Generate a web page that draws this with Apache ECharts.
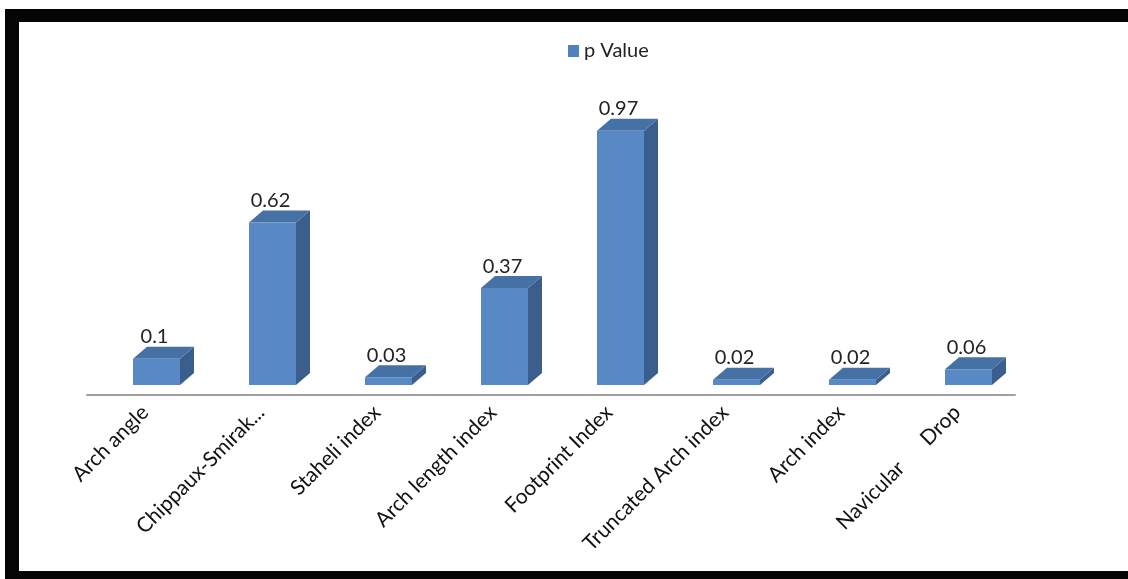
<!DOCTYPE html>
<html>
<head>
<meta charset="utf-8">
<script src="https://cdn.jsdelivr.net/npm/echarts@6/dist/echarts.min.js"></script>
<style>
  html, body { margin: 0; padding: 0; background: #fff; }
  #chart { width: 1128px; height: 579px; }
</style>
</head>
<body>
<div id="chart"></div>
<script>
var categories = ['Arch angle', 'Chippaux-Smirak...', 'Staheli index', 'Arch length index',
  'Footprint Index', 'Truncated Arch index', 'Arch index', 'Navicular      Drop'];
var pValues = [0.1, 0.62, 0.03, 0.37, 0.97, 0.02, 0.02, 0.06];

var chartDom = document.getElementById('chart');
var myChart = echarts.init(chartDom);

// fake 3d bar: front face, top face, side face
function renderBar(params, api) {
  var idx = api.value(0);
  var v = api.value(1);
  var base = api.coord([idx, 0]);
  var top = api.coord([idx, v]);
  var left = base[0] - 12;
  var w = 47;
  var dx = 14, dy = -12;
  var right = left + w;
  var yT = top[1], yB = base[1];
  return {
    type: 'group',
    children: [
      {
        type: 'polygon',
        shape: { points: [[right, yB], [right + dx, yB + dy], [right + dx, yT + dy], [right, yT]] },
        style: { fill: '#3b5e8c' }
      },
      {
        type: 'polygon',
        shape: { points: [[left, yT], [left + dx, yT + dy], [right + dx, yT + dy], [right, yT]] },
        style: { fill: '#4671a5' }
      },
      {
        type: 'rect',
        shape: { x: left, y: yT, width: w, height: yB - yT },
        style: { fill: '#5889c5' }
      },
      {
        type: 'text',
        style: {
          text: String(v), x: left + w / 2 - 2, y: yT + dy - 10,
          align: 'center', verticalAlign: 'middle',
          font: '20px Lato, "Open Sans", sans-serif', fill: '#222'
        }
      }
    ]
  };
}

var option = {
  animation: false,
  backgroundColor: '#fff',
  graphic: [
    { type: 'rect', shape: { x: 5, y: 9, width: 1123, height: 13 }, style: { fill: '#050505' } },
    { type: 'rect', shape: { x: 5, y: 9, width: 14, height: 570 }, style: { fill: '#050505' } },
    { type: 'rect', shape: { x: 5, y: 571, width: 1123, height: 8 }, style: { fill: '#050505' } }
  ],
  legend: {
    top: 36,
    left: 563,
    itemWidth: 11,
    itemHeight: 12,
    itemGap: 7,
    textStyle: { fontFamily: 'Lato, "Open Sans", sans-serif', fontSize: 20, color: '#222' },
    data: [{ name: 'p Value', icon: 'rect', itemStyle: { color: '#4f81bd' } }]
  },
  grid: { left: 87, right: 113, top: 123, bottom: 194 },
  xAxis: {
    type: 'category',
    data: categories,
    offset: 10,
    axisLine: { onZero: false, lineStyle: { color: '#a0a0a0', width: 2 } },
    axisTick: { show: false },
    axisLabel: {
      rotate: 45, interval: 0, margin: 14,
      fontFamily: 'Lato, "Open Sans", sans-serif', fontSize: 21, color: '#111'
    }
  },
  yAxis: { type: 'value', min: 0, max: 1, show: false, splitLine: { show: false } },
  series: [{
    name: 'p Value',
    type: 'custom',
    renderItem: renderBar,
    itemStyle: { color: '#4f81bd' },
    encode: { x: 0, y: 1 },
    data: pValues.map(function (v, i) { return [i, v]; })
  }]
};
option && myChart.setOption(option);
</script>
</body>
</html>
